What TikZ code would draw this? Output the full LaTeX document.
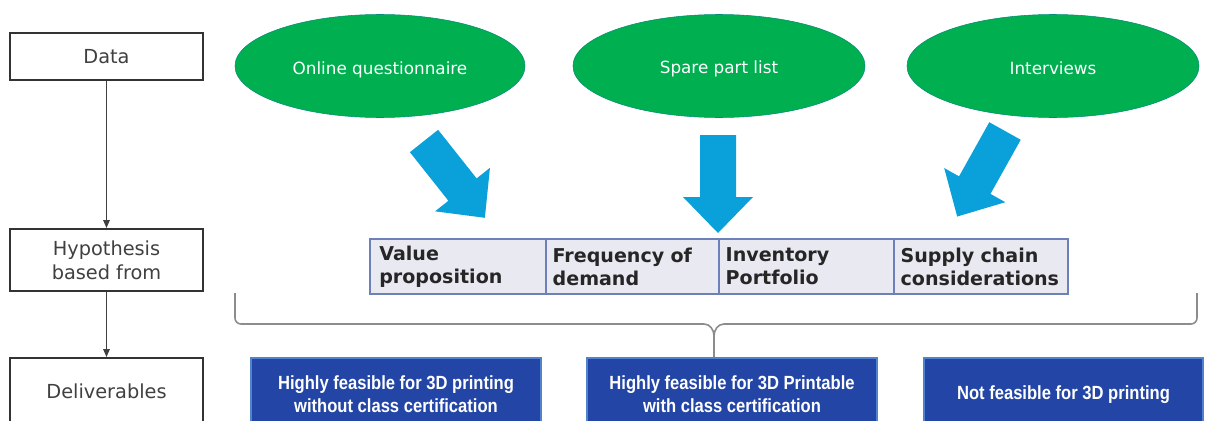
\documentclass[tikz,border=0pt]{standalone}
\usepackage{fontspec}
\setmainfont{DejaVu Sans}
\newfontfamily\narrowsans{Liberation Sans}[FakeStretch=0.87]
\usetikzlibrary{shapes.geometric,arrows.meta}

\definecolor{leafgreen}{RGB}{0,176,80}
\definecolor{arrowblue}{RGB}{10,160,218}
\definecolor{deepblue}{RGB}{35,69,165}
\definecolor{deepedge}{RGB}{80,130,205}
\definecolor{cellfill}{RGB}{233,233,241}
\definecolor{celledge}{RGB}{110,128,184}
\definecolor{labelgrey}{RGB}{64,64,64}
\definecolor{bracegrey}{RGB}{140,140,140}

\tikzset{
  stagebox/.style={draw=black!80, line width=1.5pt, fill=white, text=labelgrey,
    minimum width=144.75pt, align=center, inner sep=0pt,
    font=\fontsize{14.5}{18}\selectfont},
  source/.style={ellipse, fill=leafgreen, draw=leafgreen!80!blue, line width=0.4pt,
    minimum width=217.5pt, minimum height=77.25pt, inner sep=0pt},
  sourcetext/.style={text=white, yshift=-2pt, font=\fontsize{12.6}{15}\selectfont},
  cell/.style={draw=celledge, line width=1.1pt, fill=cellfill, text=black!85,
    minimum height=41.25pt, inner sep=0pt, align=left,
    font=\bfseries\fontsize{14.3}{17.25}\selectfont},
  outcome/.style={draw=deepedge, line width=0.8pt, fill=deepblue, text=white,
    minimum height=54.75pt, inner sep=0pt, align=center,
    font=\narrowsans\bfseries\fontsize{14.3}{17.25}\selectfont},
  flow/.style={draw=black!75, line width=0.8pt, -{Triangle[length=6pt,width=5pt]}},
  bracket/.style={draw=bracegrey, line width=1.2pt}
}

% broad block arrow: tail centre (#1,#2), direction #3 (degrees)
\newcommand\blockarrow[3]{%
  \fill[arrowblue, shift={(#1,#2)}, rotate=#3]
    (0,-18) -- (62,-18) -- (62,-35) -- (98,0) -- (62,35) -- (62,18) -- (0,18) -- cycle;}

\begin{document}
\begin{tikzpicture}[x=0.75pt, y=-0.75pt]
\useasboundingbox (0,0) rectangle (1206,421);
\clip (0,0) rectangle (1206,421);
\fill[white] (0,0) rectangle (1206,421);

% stages on the left
\node[stagebox, minimum height=35.25pt] (data) at (106.5,56.5) {Data};
\node[stagebox, minimum height=46.5pt] (hyp) at (106.5,260) {Hypothesis\\based from};
\node[stagebox, minimum height=49.5pt] (deliv) at (106.5,391) {Deliverables};
\draw[flow] (data) -- (hyp);
\draw[flow] (hyp) -- (deliv);

% data sources
\node[source] (quest) at (380,66) {};
\node[source, minimum width=219pt] (spare) at (719,66) {};
\node[source, minimum width=219pt] (interv) at (1053,66) {};
\node[sourcetext, yshift=-1pt] (questlbl) at (quest.center) {Online questionnaire};
\node[sourcetext] (sparelbl) at (spare.center) {Spare part list};
\node[sourcetext] (intervlbl) at (interv.center) {Interviews};

% block arrows into the hypothesis table
\blockarrow{424}{141}{-51.6}
\blockarrow{718}{135}{-90}
\blockarrow{1005}{131}{-119.2}

% hypothesis table
\node[cell, minimum width=132pt, text width=118pt] (c1) at (458,266.5) {Value\\proposition};
\node[cell, minimum width=129.75pt, text width=119.75pt] (c2) at (632.5,266.5) {Frequency of\\demand};
\node[cell, minimum width=131.25pt, text width=121.25pt] (c3) at (806.5,266.5) {Inventory\\Portfolio};
\node[cell, minimum width=130.5pt, text width=120.5pt] (c4) at (981,266.5) {Supply chain\\considerations};

% brace gathering the table
\coordinate (bl) at (235,293);
\coordinate (br) at (1197,293);
\coordinate (bt) at (714,357);
\draw[bracket] (bl) -- (235,318) to[out=-90,in=180] (241,324) -- (704,324)
  to[out=0,in=90] (714,336) -- (bt);
\draw[bracket] (br) -- (1197,318) to[out=-90,in=0] (1191,324) -- (724,324)
  to[out=180,in=90] (714,336);

% deliverables
\node[outcome, minimum width=217.5pt] (d1) at (396,394.5) {Highly feasible for 3D printing\\without class certification};
\node[outcome, minimum width=217.5pt] (d2) at (732,394.5) {Highly feasible for 3D Printable\\with class certification};
\node[outcome, minimum width=209.25pt] (d3) at (1063.5,394.5) {Not feasible for 3D printing};
\end{tikzpicture}
\end{document}
